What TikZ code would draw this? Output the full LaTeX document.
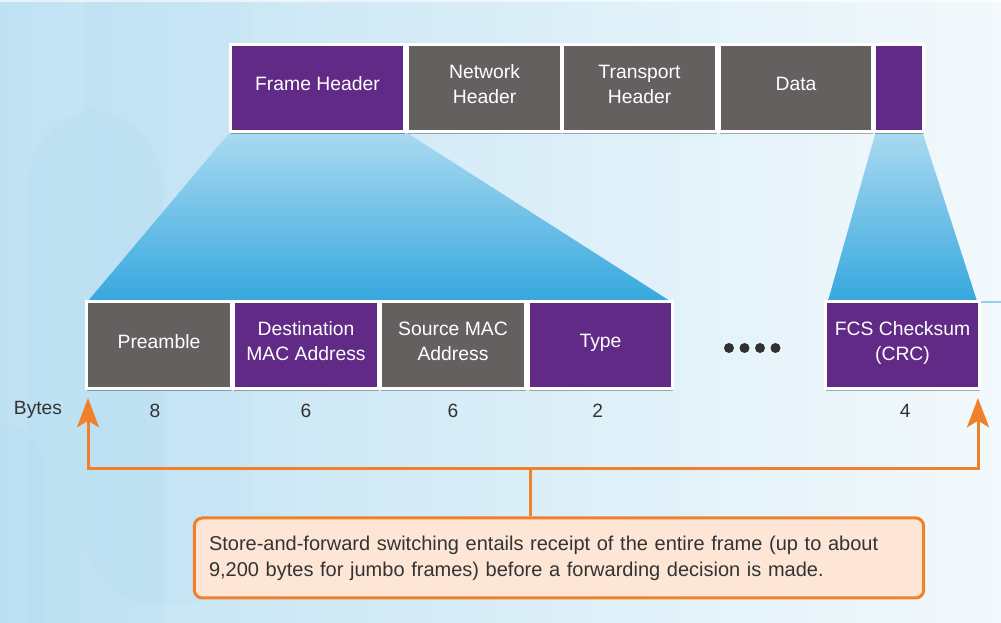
\documentclass[tikz,border=0pt]{standalone}
\usepackage{fontspec}
\setmainfont{Liberation Sans}
\usetikzlibrary{arrows.meta,shadows,calc}
\definecolor{purp}{HTML}{622A87}
\definecolor{gry}{HTML}{646060}
\definecolor{org}{HTML}{F0812A}
\definecolor{peach}{HTML}{FDE6D5}
\definecolor{txt}{HTML}{333333}
\definecolor{bgl}{HTML}{BFE2F3}
\definecolor{bgr}{HTML}{F3F9FC}
\definecolor{tlight}{HTML}{ABDAF0}
\definecolor{tdark}{HTML}{36A8DF}
\tikzset{
  seg/.style={draw=white, line width=2.25pt, inner sep=0pt, outer sep=0pt,
    text=white, align=center, font=\fontsize{14.5}{18.75}\selectfont,
    minimum height=65.25pt, text depth=6pt,
    drop shadow={shadow xshift=0.6pt, shadow yshift=-1.6pt, opacity=0.3, fill=black}},
  pbox/.style={seg, fill=purp},
  gbox/.style={seg, fill=gry},
  funnel/.style={top color=tlight, bottom color=tdark, draw=none},
  lbl/.style={text=txt, font=\fontsize{14.4}{17}\selectfont, inner sep=0pt},
  oline/.style={draw=org, line width=2.25pt, line join=miter},
  otip/.tip={Stealth[length=22pt, width=16.5pt, inset=5pt]},
  note/.style={draw=org, line width=2.25pt, fill=peach, rounded corners=6pt,
    text=txt, align=left, text width=525pt, inner xsep=11pt, inner ysep=0pt,
    minimum height=60pt, font=\fontsize{15}{19.5}\selectfont},
  dot/.style={circle, fill=txt!95!black, inner sep=0pt, minimum size=7.5pt}
}
\begin{document}
\begin{tikzpicture}[x=0.75pt, y=-0.75pt]
\useasboundingbox (0,0) rectangle (1001,623);
% background
\shade[left color=bgl, right color=bgr] (0,0) rectangle (1001,623);
\fill[bgl!80!tdark, opacity=0.12, rounded corners=60pt] (27,108) rectangle (163,700);
\fill[bgl!80!tdark, opacity=0.08, rounded corners=55pt] (85,-80) rectangle (250,605);
\fill[bgl!80!tdark, opacity=0.10, rounded corners=40pt] (-60,420) rectangle (45,700);
\fill[white, opacity=0.6] (0,0) rectangle (1001,2);

% funnels
\path[funnel] (231,131) -- (404,131) -- (670,301) -- (88,301) -- cycle;
\path[funnel] (876,131) -- (922,131) -- (977,301) -- (828,301) -- cycle;
\draw[tlight!80!tdark, line width=0.8pt] (980,302) -- (1001,302);

% top row
\node[pbox, minimum width=130.5pt] (fh) at (317.5,88) {Frame Header};
\node[gbox, minimum width=115.5pt] (nh) at (484.5,88) {Network\\Header};
\node[gbox, minimum width=115.5pt] (th) at (639.5,88) {Transport\\Header};
\node[gbox, minimum width=114.75pt] (da) at (796,88) {Data};
\node[pbox, minimum width=36.75pt] (ft) at (899,88) {};

% middle row
\node[gbox, minimum width=108.75pt] (pre) at (159,345) {Preamble};
\node[pbox, minimum width=108.75pt] (dst) at (306,345) {Destination\\MAC Address};
\node[gbox, minimum width=108.75pt] (src) at (453,345) {Source MAC\\Address};
\node[pbox, minimum width=108pt] (typ) at (600.5,345) {Type};
\node[pbox, minimum width=115.5pt] (fcs) at (902.5,345) {FCS Checksum\\(CRC)};

% dots
\node[dot] (d1) at (729,348) {};
\node[dot] (d2) at (744.5,348) {};
\node[dot] (d3) at (760,348) {};
\node[dot] (d4) at (775.5,348) {};

% bytes row
\coordinate (brow) at (0,411);
\node[lbl] (by) at (38,410) {Bytes};
\node[lbl] (b1) at ([xshift=-3pt]pre.center |- brow) {8};
\node[lbl] (b2) at (dst.center |- brow) {6};
\node[lbl] (b3) at (src.center |- brow) {6};
\node[lbl] (b4) at ([xshift=-2pt]typ.center |- brow) {2};
\node[lbl] (b5) at ([xshift=2pt]fcs.center |- brow) {4};

% note and arrows
\node[note] (nt) at (559,558) {Store-and-forward switching entails receipt of the entire frame (up to about\\9,200 bytes for jumbo frames) before a forwarding decision is made.};
\coordinate (tipL) at (88,398);
\coordinate (tipR) at (978,398);
\coordinate (jl) at (88,469);
\coordinate (jr) at (978,469);
\coordinate (jm) at (530,469);
\draw[oline, {otip}-{otip}] (tipL) -- (jl) -- (jr) -- (tipR);
\draw[oline] (jm) -- (nt.north -| jm);
\end{tikzpicture}
\end{document}
